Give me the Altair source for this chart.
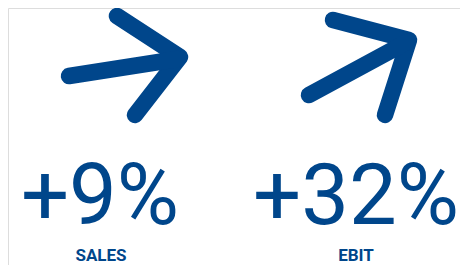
import altair as alt
import pandas as pd

BLUE = "#00468b"

# Arrow strokes (polylines), in reference pixel coordinates
seg_ids = ["L_head", "L_head", "L_head", "L_shaft", "L_shaft",
           "R_head", "R_head", "R_head", "R_shaft", "R_shaft"]
seg_order = [0, 1, 2, 0, 1, 0, 1, 2, 0, 1]
seg_x = [121, 184, 139, 73, 182, 337, 413, 389, 313, 411]
seg_y = [23, 64, 122, 83, 66, 27, 47, 122, 102, 49]

# Big numbers and labels
values = ["+9%", "+32%"]
labels = ["SALES", "EBIT"]
value_x = [104, 360]
label_x = [105, 360]
value_y = [231, 231]
label_y = [268, 268]

arrows = pd.DataFrame({"seg": seg_ids, "ord": seg_order, "x": seg_x, "y": seg_y})
vals = pd.DataFrame({"t": values, "x": value_x, "y": value_y})
labs = pd.DataFrame({"t": labels, "x": label_x, "y": label_y})

xs = alt.Scale(domain=[12, 464])
ys = alt.Scale(domain=[15, 272], reverse=True)

line = alt.Chart(arrows).mark_line(
    color=BLUE, strokeWidth=16.5, strokeCap="round", strokeJoin="round"
).encode(
    x=alt.X("x:Q", scale=xs, axis=None),
    y=alt.Y("y:Q", scale=ys, axis=None),
    detail="seg:N",
    order="ord:Q",
)

big = alt.Chart(vals).mark_text(
    font="Roboto", fontSize=85, fontWeight=400, color=BLUE,
    align="center", baseline="alphabetic"
).encode(
    x=alt.X("x:Q", scale=xs, axis=None),
    y=alt.Y("y:Q", scale=ys, axis=None),
    text="t:N",
)

small = alt.Chart(labs).mark_text(
    font="Roboto", fontSize=17, fontWeight="bold", color=BLUE,
    align="center", baseline="alphabetic"
).encode(
    x=alt.X("x:Q", scale=xs, axis=None),
    y=alt.Y("y:Q", scale=ys, axis=None),
    text="t:N",
)

chart = alt.layer(line, big, small).properties(
    width=452, height=257, padding=0, autosize="none"
).configure_view(stroke=None, strokeWidth=0).configure(background="white")

chart.save("out.html", embed_options={"renderer": "svg", "actions": False})
